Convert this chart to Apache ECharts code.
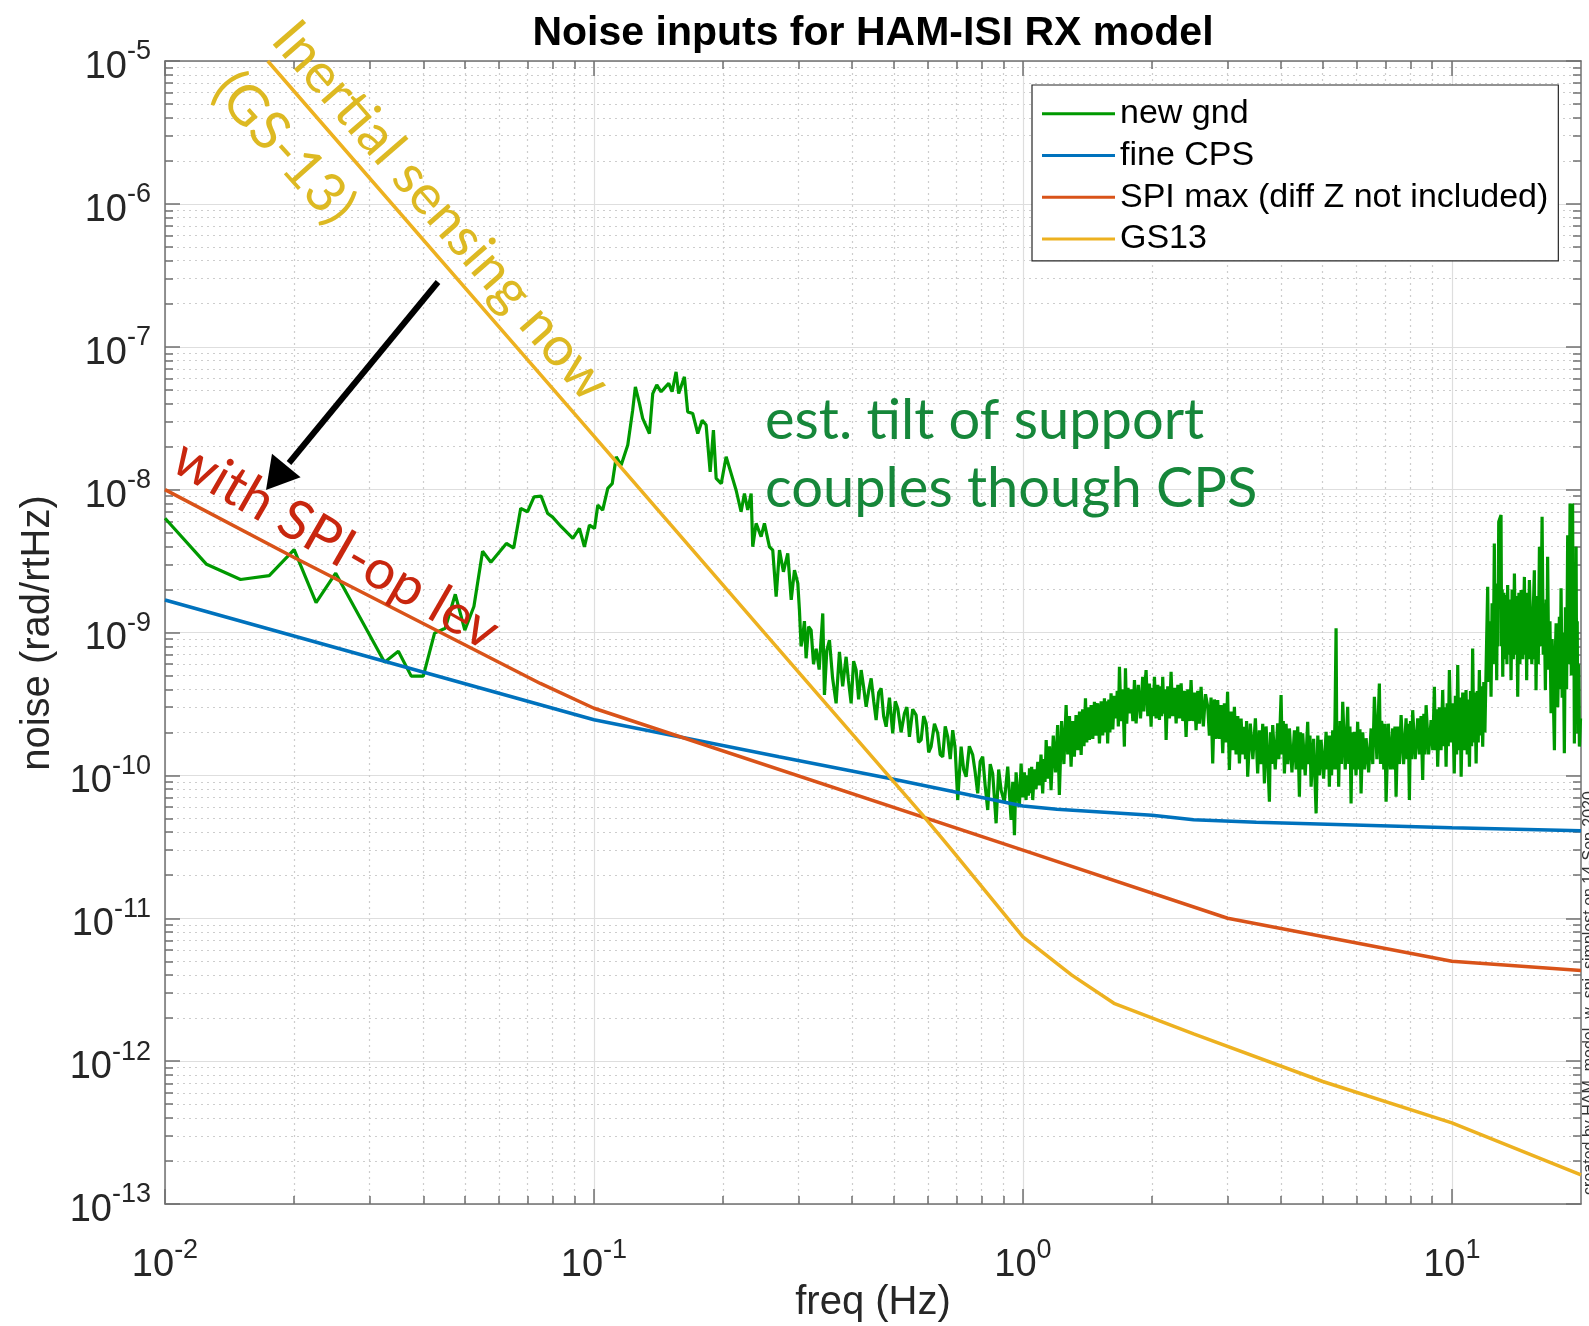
<!DOCTYPE html>
<html>
<head>
<meta charset="utf-8">
<script src="https://cdn.jsdelivr.net/npm/echarts@6.0.0/dist/echarts.min.js"></script>
<style>html,body{margin:0;padding:0;background:#fff;}</style>
</head>
<body>
<div id="main" style="width:1589px;height:1326px;"></div>
<script type="text/javascript">
// values, [freq (Hz), noise (rad/rtHz)]
// new gnd, below 0.3 Hz
var gndLow = [[0.01,6.3e-9],[0.0125,3.0e-9],[0.015,2.35e-9],[0.0175,2.5e-9],[0.02,3.8e-9],[0.0225,1.62e-9],[0.025,2.6e-9],[0.0325,6.2e-10],[0.035,7.4e-10],[0.0375,4.95e-10],
  [0.04,4.95e-10],[0.0425,9.9e-10],[0.045,1.07e-9],[0.0475,1.85e-9],[0.05,1.04e-9],[0.0525,1.52e-9],[0.055,3.7e-9],[0.0575,3.1e-9],[0.0625,4.2e-9],[0.065,3.9e-9],[0.0675,7.4e-9],[0.07,7.0e-9],
  [0.0725,8.9e-9],[0.0753,9.0e-9],[0.078,6.8e-9],[0.080,6.45e-9],[0.0839,5.5e-9],[0.0893,4.56e-9],[0.0925,5.35e-9],[0.095,3.98e-9],[0.0976,5.64e-9],[0.1003,5.35e-9],[0.1021,7.8e-9],
  [0.1048,7.2e-9],[0.1077,1.02e-8],[0.1103,1.1e-8],[0.1127,1.7e-8],[0.1157,1.48e-8],[0.1199,2.05e-8],[0.1231,3.6e-8],[0.1249,5.24e-8],[0.1277,4.0e-8],[0.1299,3.15e-8],[0.1347,2.47e-8],
  [0.1371,4.7e-8],[0.1401,5.4e-8],[0.1434,4.84e-8],[0.1468,5.24e-8],[0.1494,5.54e-8],[0.1521,4.84e-8],[0.1554,6.67e-8],[0.1576,4.7e-8],[0.1625,6.16e-8],[0.1654,3.5e-8],[0.1699,3.41e-8],
  [0.1746,2.47e-8],[0.1788,3.06e-8],[0.1826,2.83e-8],[0.1866,1.33e-8],[0.1899,2.61e-8],[0.1927,1.2e-8],[0.198,1.1e-8],[0.2033,1.7e-8],[0.2088,1.3e-8],[0.2145,9.9e-9],[0.2203,7.0e-9],
  [0.2243,9.4e-9],[0.2283,7.2e-9],[0.2325,9.4e-9],[0.2345,3.98e-9],[0.2388,5.8e-9],[0.2453,4.68e-9],[0.2497,5.8e-9],[0.2565,3.98e-9],[0.2611,3.77e-9],[0.2659,1.78e-9],[0.2707,3.77e-9],
  [0.2765,2.66e-9],[0.283,3.58e-9],[0.2883,1.69e-9],[0.2934,2.73e-9],[0.2987,2.21e-9]];
// new gnd, 0.3 - 1 Hz
var gndMid = [[0.3013,1.44e-9],[0.304,8.0e-10],[0.3066,9.3e-10],[0.3095,1.2e-9],[0.3123,6.6e-10],[0.3165,1.1e-9],[0.3208,1.04e-9],[0.325,6.0e-10],[0.3296,7.7e-10],[0.335,5.5e-10],
  [0.3415,1.36e-9],[0.3446,3.65e-10],[0.349,7.5e-10],[0.354,8.85e-10],[0.360,4.8e-10],[0.3669,3.19e-10],[0.3735,7.33e-10],[0.380,4.2e-10],[0.3871,6.76e-10],[0.392,4.6e-10],[0.3977,3.19e-10],
  [0.403,6.3e-10],[0.4085,5.46e-10],[0.414,3.4e-10],[0.4197,5.46e-10],[0.425,4.2e-10],[0.4311,3.02e-10],[0.437,3.9e-10],[0.4428,4.77e-10],[0.449,3.3e-10],[0.4548,2.44e-10],[0.461,3.8e-10],
  [0.4672,4.06e-10],[0.4735,2.6e-10],[0.4799,2.19e-10],[0.4885,3.5e-10],[0.4972,1.97e-10],[0.504,3.3e-10],[0.5108,2.94e-10],[0.520,2.0e-10],[0.5295,2.72e-10],[0.5365,3.0e-10],[0.5438,1.86e-10],
  [0.5535,2.9e-10],[0.5637,2.64e-10],[0.571,1.7e-10],[0.5791,1.77e-10],[0.587,2.6e-10],[0.5949,2.31e-10],[0.603,1.45e-10],[0.6109,1.59e-10],[0.622,2.3e-10],[0.633,1.97e-10],[0.6415,1.4e-10],
  [0.6503,1.35e-10],[0.659,2.2e-10],[0.6679,1.86e-10],[0.677,1.3e-10],[0.6861,2.07e-10],[0.695,1.55e-10],[0.7047,6.72e-11],[0.7178,1.59e-10],[0.7275,1.1e-10],[0.7373,9.78e-11],[0.750,1.6e-10],
  [0.7638,1.39e-10],[0.774,1.05e-10],[0.7845,7.48e-11],[0.795,1.25e-10],[0.8058,1.35e-10],[0.8165,8.5e-11],[0.8279,5.72e-11],[0.839,1.2e-10],[0.8503,1.03e-10],[0.858,7.0e-11],[0.866,4.62e-11],
  [0.878,1.1e-10],[0.8896,7.89e-11],[0.905,6.5e-11],[0.9218,1.15e-10],[0.930,7.5e-11],[0.9386,4.87e-11],[0.947,9.0e-11],[0.9555,3.82e-11],[0.964,1.05e-10],[0.9725,7.48e-11],[0.981,6.0e-11],
  [0.9904,1.21e-10]];
// new gnd, 1 - 10 Hz
var gndHigh = [[0.999,7.0e-11],[1.008,1.05e-10],[1.017,6.72e-11],[1.023,1.0e-10],[1.030,7.2e-11],[1.036,1.12e-10],[1.042,7.5e-11],[1.048,1.15e-10],[1.054,6.72e-11],[1.064,1.1e-10],
  [1.073,8.0e-11],[1.083,1.245e-10],[1.093,8.5e-11],[1.102,1.4e-10],[1.112,7.48e-11],[1.119,1.3e-10],[1.126,9.0e-11],[1.133,1.77e-10],[1.143,9.5e-11],[1.153,1.6e-10],[1.163,7.89e-11],
  [1.177,1.9e-10],[1.191,1.05e-10],[1.205,2.25e-10],[1.216,7.28e-11],[1.231,2.4e-10],[1.246,1.2e-10],[1.261,3.1e-10],[1.272,1.4e-10],[1.284,2.6e-10],[1.295,1.15e-10],[1.307,2.4e-10],
  [1.318,1.35e-10],[1.33,2.64e-10],[1.342,1.5e-10],[1.355,2.8e-10],[1.367,1.39e-10],[1.378,2.9e-10],[1.388,1.6e-10],[1.399,3.46e-10],[1.409,1.7e-10],[1.419,3.0e-10],[1.429,1.77e-10],
  [1.442,3.1e-10],[1.455,1.8e-10],[1.468,3.27e-10],[1.481,1.9e-10],[1.494,3.2e-10],[1.508,1.67e-10],[1.522,3.3e-10],[1.535,1.9e-10],[1.549,3.46e-10],[1.558,2.0e-10],[1.567,3.3e-10],
  [1.576,1.67e-10],[1.586,3.4e-10],[1.595,2.0e-10],[1.605,3.75e-10],[1.620,2.1e-10],[1.634,3.6e-10],[1.649,2.51e-10],[1.659,3.9e-10],[1.669,2.2e-10],[1.679,5.75e-10],[1.694,2.4e-10],
  [1.709,4.0e-10],[1.724,1.59e-10],[1.734,5.61e-10],[1.746,2.3e-10],[1.758,4.1e-10],[1.771,2.72e-10],[1.787,4.0e-10],[1.804,2.4e-10],[1.82,4.64e-10],[1.836,2.31e-10],[1.858,4.3e-10],
  [1.880,2.5e-10],[1.902,4.9e-10],[1.914,2.8e-10],[1.925,4.2e-10],[1.937,5.46e-10],[1.955,2.6e-10],[1.972,4.4e-10],[1.99,2.19e-10],[2.002,4.1e-10],[2.014,2.6e-10],[2.026,4.9e-10],
  [2.044,2.5e-10],[2.063,4.3e-10],[2.081,2.44e-10],[2.093,4.2e-10],[2.106,2.6e-10],[2.118,4.9e-10],[2.131,2.7e-10],[2.144,4.0e-10],[2.157,1.77e-10],[2.176,4.2e-10],[2.196,2.5e-10],
  [2.215,5.31e-10],[2.235,2.6e-10],[2.256,4.1e-10],[2.276,2.31e-10],[2.297,4.3e-10],[2.317,2.5e-10],[2.338,4.4e-10],[2.359,2.4e-10],[2.380,3.9e-10],[2.401,1.86e-10],[2.423,4.0e-10],
  [2.444,2.4e-10],[2.466,4.64e-10],[2.488,2.4e-10],[2.511,3.8e-10],[2.533,2.07e-10],[2.556,3.9e-10],[2.579,2.3e-10],[2.602,4.17e-10],[2.634,2.2e-10],[2.665,3.7e-10],[2.697,3.02e-10],
  [2.721,1.9e-10],[2.745,3.5e-10],[2.77,1.21e-10],[2.795,3.4e-10],[2.82,1.8e-10],[2.845,3.37e-10],[2.871,1.8e-10],[2.897,3.1e-10],[2.923,1.43e-10],[2.949,3.2e-10],[2.975,1.7e-10],
  [3.0,3.85e-10],[3.029,1.09e-10],[3.057,2.8e-10],[3.084,1.5e-10],[3.112,3.02e-10],[3.140,1.4e-10],[3.169,2.6e-10],[3.197,1.21e-10],[3.226,2.5e-10],[3.254,1.4e-10],[3.283,2.19e-10],
  [3.303,1.3e-10],[3.322,2.4e-10],[3.342,9.78e-11],[3.389,2.3e-10],[3.436,1.3e-10],[3.483,2.51e-10],[3.526,1.03e-10],[3.558,2.07e-10],[3.591,1.2e-10],[3.623,2.3e-10],[3.656,8.79e-11],
  [3.689,2.2e-10],[3.722,1.3e-10],[3.755,6.54e-11],[3.777,2.0e-10],[3.800,1.2e-10],[3.822,2.25e-10],[3.874,1.1e-10],[3.926,2.31e-10],[3.950,1.3e-10],[3.974,2.1e-10],[3.998,3.65e-10],
  [4.022,1.4e-10],[4.046,2.4e-10],[4.07,1.03e-10],[4.107,2.3e-10],[4.144,1.2e-10],[4.181,2.13e-10],[4.238,1.05e-10],[4.295,2.07e-10],[4.334,1.1e-10],[4.372,2.2e-10],[4.411,7.08e-11],
  [4.437,2.0e-10],[4.464,1.1e-10],[4.49,1.97e-10],[4.551,1.0e-10],[4.612,2.37e-10],[4.640,1.2e-10],[4.669,1.9e-10],[4.697,8.32e-11],[4.761,1.8e-10],[4.825,5.42e-11],[4.869,1.9e-10],
  [4.912,1.0e-10],[4.956,1.77e-10],[5.023,9.5e-11],[5.091,2.02e-10],[5.121,1.1e-10],[5.151,1.9e-10],[5.181,8.32e-11],[5.212,1.9e-10],[5.243,1.0e-10],[5.274,2.07e-10],[5.306,1.1e-10],
  [5.339,2.4e-10],[5.371,1.07e-9],[5.396,1.1e-10],[5.421,2.2e-10],[5.446,8.32e-11],[5.486,2.4e-10],[5.526,1.2e-10],[5.566,3.27e-10],[5.641,1.1e-10],[5.716,3.02e-10],[5.751,1.2e-10],
  [5.786,2.2e-10],[5.821,6.37e-11],[5.856,2.0e-10],[5.890,1.1e-10],[5.925,2.02e-10],[5.978,1.0e-10],[6.031,2.37e-10],[6.068,1.1e-10],[6.105,2.1e-10],[6.142,7.48e-11],[6.198,2.0e-10],
  [6.254,1.1e-10],[6.31,1.82e-10],[6.396,1.05e-10],[6.482,2.13e-10],[6.54,1.2e-10],[6.597,3.55e-10],[6.687,1.3e-10],[6.776,4.4e-10],[6.817,1.2e-10],[6.857,2.4e-10],[6.898,2.07e-10],
  [6.94,1.1e-10],[6.98,2.3e-10],[7.025,6.54e-11],[7.109,2.3e-10],[7.193,1.1e-10],[7.278,2.13e-10],[7.323,1.1e-10],[7.367,2.2e-10],[7.412,7.08e-11],[7.479,2.2e-10],[7.547,1.2e-10],
  [7.614,2.64e-10],[7.717,1.2e-10],[7.821,2.51e-10],[7.868,1.3e-10],[7.914,2.3e-10],[7.961,6.72e-11],[8.008,2.4e-10],[8.056,1.3e-10],[8.103,2.86e-10],[8.214,1.3e-10],[8.324,2.51e-10],
  [8.40,1.4e-10],[8.475,2.6e-10],[8.55,9.27e-11],[8.603,2.7e-10],[8.655,1.4e-10],[8.708,3.1e-10],[8.826,1.4e-10],[8.944,2.44e-10],[9.024,1.5e-10],[9.104,4.17e-10],[9.158,1.5e-10],
  [9.213,2.9e-10],[9.267,1.15e-10],[9.35,3.0e-10],[9.435,1.5e-10],[9.52,3.95e-10],[9.578,1.6e-10],[9.636,3.0e-10],[9.694,1.15e-10],[9.752,3.2e-10],[9.809,1.6e-10],[9.867,5.46e-10],
  [9.955,1.7e-10],[10.04,3.2e-10]];
// new gnd, 10 - 20 Hz
var gndTop = [[10.13,1.03e-10],[10.19,3.6e-10],[10.26,1.4e-10],[10.32,5.91e-10],[10.38,1.5e-10],[10.45,3.5e-10],[10.51,9.78e-11],[10.60,3.8e-10],[10.70,1.5e-10],[10.79,3.95e-10],
  [10.86,1.4e-10],[10.92,3.4e-10],[10.99,1.15e-10],[11.05,3.9e-10],[11.12,1.6e-10],[11.18,7.74e-10],[11.25,1.7e-10],[11.32,3.8e-10],[11.39,1.21e-10],[11.46,3.9e-10],[11.52,1.7e-10],
  [11.59,5.46e-10],[11.66,1.9e-10],[11.73,4.2e-10],[11.80,1.59e-10],[11.87,4.5e-10],[11.94,2.0e-10],[12.01,5.17e-10],[12.12,2.09e-9],[12.19,4.5e-10],[12.27,1.2e-9],[12.34,3.55e-10],
  [12.41,1.6e-9],[12.49,6.0e-10],[12.56,4.2e-9],[12.61,6.5e-10],[12.67,1.8e-9],[12.72,4.64e-10],[12.77,2.2e-9],[12.81,8.0e-10],[12.86,5.95e-9],[13.02,6.63e-9],[13.06,8.0e-10],[13.10,2.0e-9],
  [13.14,4.9e-10],[13.22,1.9e-9],[13.30,6.5e-10],[13.38,1.83e-9],[13.44,6.0e-10],[13.49,2.15e-9],[13.57,7.0e-10],[13.66,1.7e-9],[13.74,4.64e-10],[13.82,2.0e-9],[13.91,6.5e-10],[13.99,2.59e-9],
  [14.07,7.0e-10],[14.16,1.8e-9],[14.24,3.55e-10],[14.33,1.9e-9],[14.41,6.0e-10],[14.50,1.98e-9],[14.63,6.5e-10],[14.76,2.45e-9],[14.82,7.0e-10],[14.88,1.7e-9],[14.94,4.64e-10],[15.01,1.9e-9],
  [15.09,6.5e-10],[15.16,2.33e-9],[15.36,6.0e-10],[15.57,2.73e-9],[15.62,6.5e-10],[15.66,1.6e-9],[15.71,3.95e-10],[15.81,1.8e-9],[15.90,6.0e-10],[16.0,3.98e-9],[16.11,8.0e-10],[16.23,6.45e-9],
  [16.33,7.0e-10],[16.42,1.6e-9],[16.52,3.95e-10],[16.59,1.7e-9],[16.65,6.0e-10],[16.72,3.39e-9],[16.82,5.5e-10],[16.93,1.2e-9],[17.03,2.72e-10],[17.13,9.0e-10],[17.24,3.5e-10],[17.34,1.5e-10],
  [17.42,7.0e-10],[17.50,1.16e-9],[17.65,3.0e-10],[17.81,1.29e-9],[17.89,4.0e-10],[17.97,2.04e-9],[18.08,3.5e-10],[18.18,1.0e-9],[18.29,1.43e-10],[18.40,1.5e-9],[18.51,4.0e-10],[18.62,4.8e-9],
  [18.74,6.0e-10],[18.86,8.01e-9],[18.99,5.0e-10],[19.12,8.01e-9],[19.18,6.0e-10],[19.24,2.0e-9],[19.30,1.67e-10],[19.36,1.5e-9],[19.42,3.0e-10],[19.48,3.98e-9],[19.54,4.0e-10],[19.60,1.2e-9],
  [19.65,1.97e-10],[19.74,6.0e-10],[19.83,1.59e-10],[19.95,2.5e-10]];

var cpsFreq = [0.01, 0.1, 0.27, 0.49, 1, 1.2, 2, 2.5, 3.5, 10, 20];
var cpsVal = [1.69e-9, 2.45e-10, 1.35e-10, 9.5e-11, 6.1e-11, 5.8e-11, 5.25e-11, 4.9e-11, 4.7e-11, 4.3e-11, 4.1e-11];

var spiFreq = [0.01, 0.02, 0.075, 0.1, 1, 3, 10, 20];
var spiVal = [1e-8, 3.35e-9, 4.4e-10, 2.95e-10, 3.0e-11, 1.0e-11, 5.0e-12, 4.3e-12];

var gsFreq = [0.01736, 0.0925, 0.27, 0.584, 0.68, 1, 1.3, 1.63, 2.5, 5, 10, 20];
var gsVal = [1e-5, 3.1e-8, 7.6e-10, 5.27e-11, 3.05e-11, 7.4e-12, 4.0e-12, 2.54e-12, 1.55e-12, 7.2e-13, 3.7e-13, 1.6e-13];

// axis decades (exponents) and minor multipliers
var xMajorExp = [-2, -1, 0, 1];
var yMajorExp = [-13, -12, -11, -10, -9, -8, -7, -6, -5];
var minorMult = [2, 3, 4, 5, 6, 7, 8, 9];

var FONT = '"Liberation Sans", Arial, Helvetica, sans-serif';
var AX = '#707070';
var xLo = Math.log10(0.01), xHi = Math.log10(20);
var yLo = -13, yHi = -5;

function pairs(f, v) {
    return f.map(function (x, i) { return [x, v[i]]; });
}
function minorExp(lo, hi) {
    var out = [];
    for (var n = Math.floor(lo); n < hi; n++) {
        minorMult.forEach(function (m) {
            var e = n + Math.log10(m);
            if (e > lo + 1e-9 && e < hi - 1e-9) out.push(e);
        });
    }
    return out;
}
var xMinor = minorExp(xLo, xHi);
var yMinor = minorExp(yLo, yHi);

var rich = {
    b: { fontSize: 38, lineHeight: 48, verticalAlign: 'bottom', fontFamily: FONT, color: '#262626' },
    s: { fontSize: 27, lineHeight: 24, verticalAlign: 'top', fontFamily: FONT, color: '#262626' }
};
function powLabel(v) { return '{b|10}{s|' + Math.round(v) + '}'; }

function overlay(isX, pos, vals, len, withLine, label, split) {
    var ax = {
        type: 'value', min: isX ? xLo : yLo, max: isX ? xHi : yHi, position: pos,
        axisLine: { show: withLine, onZero: false, lineStyle: { color: AX, width: 1.5 } },
        axisTick: { show: true, inside: true, length: len, customValues: vals, lineStyle: { color: AX, width: 1.5 } },
        axisLabel: { show: false },
        splitLine: { show: false }
    };
    if (label) ax.axisLabel = label;
    if (split) ax.splitLine = { show: true, lineStyle: split };
    return ax;
}

var myChart = echarts.init(document.getElementById('main'));

var option = {
    animation: false,
    backgroundColor: '#fff',
    grid: { left: 165, top: 61, width: 1416, height: 1143, outerBoundsMode: 'none', containLabel: false },
    xAxis: [
        { type: 'log', logBase: 10, min: 0.01, max: 20, show: false },
        overlay(true, 'bottom', xMajorExp, 15, true,
            { show: true, customValues: xMajorExp, margin: 33, fontSize: 38, formatter: powLabel, rich: rich },
            { color: '#dedede', width: 1.2 }),
        overlay(true, 'bottom', xMinor, 8, false, null, { color: '#cdcdcd', width: 1.2, type: [2, 4] }),
        overlay(true, 'top', xMajorExp, 15, true, null, null),
        overlay(true, 'top', xMinor, 8, false, null, null)
    ],
    yAxis: [
        { type: 'log', logBase: 10, min: 1e-13, max: 1e-5, show: false },
        overlay(false, 'left', yMajorExp, 15, true,
            { show: true, customValues: yMajorExp, margin: 14, padding: [3, 0, 0, 0], fontSize: 38, formatter: powLabel, rich: rich },
            { color: '#dedede', width: 1.2 }),
        overlay(false, 'left', yMinor, 8, false, null, { color: '#cdcdcd', width: 1.2, type: [2, 4] }),
        overlay(false, 'right', yMajorExp, 15, true, null, null),
        overlay(false, 'right', yMinor, 8, false, null, null)
    ],
    legend: {
        orient: 'vertical', left: 1032, top: 85, padding: [8, 10, 1, 10],
        itemWidth: 73, itemHeight: 3, itemGap: 0, icon: 'rect',
        borderColor: '#262626', borderWidth: 1.2, backgroundColor: '#fff',
        selectedMode: false,
        textStyle: { fontFamily: FONT, fontSize: 34, lineHeight: 41.7, color: '#000' },
        data: ['new gnd', 'fine CPS', 'SPI max (diff Z not included)', 'GS13']
    },
    series: [
        { name: 'new gnd', type: 'line', data: gndLow.concat(gndMid, gndHigh, gndTop), showSymbol: false, color: '#009900', lineStyle: { width: 3.2 } },
        { name: 'fine CPS', type: 'line', data: pairs(cpsFreq, cpsVal), showSymbol: false, color: '#0072BD', lineStyle: { width: 3.5 } },
        { name: 'SPI max (diff Z not included)', type: 'line', data: pairs(spiFreq, spiVal), showSymbol: false, color: '#D95319', lineStyle: { width: 3.5 } },
        { name: 'GS13', type: 'line', data: pairs(gsFreq, gsVal), showSymbol: false, color: '#EDB120', lineStyle: { width: 3.5 } }
    ],
    graphic: [
        { type: 'text', x: 873, y: 34, z: 100, style: { text: 'Noise inputs for HAM-ISI RX model', font: 'bold 41px ' + FONT, fill: '#000', align: 'center', verticalAlign: 'middle' } },
        { type: 'text', x: 873, y: 1303, z: 100, style: { text: 'freq (Hz)', font: '40px ' + FONT, fill: '#262626', align: 'center', verticalAlign: 'middle' } },
        { type: 'text', x: 38, y: 633, z: 100, rotation: Math.PI / 2, style: { text: 'noise (rad/rtHz)', font: '40px ' + FONT, fill: '#262626', align: 'center', verticalAlign: 'middle' } },
        { type: 'text', x: 1590, y: 993, z: 100, rotation: Math.PI / 2, style: { text: 'created by HAM_model_w_spi_simplest on 14-Sep-2020', font: '16px ' + FONT, fill: '#333', align: 'center', verticalAlign: 'middle' } },
        // annotations
        { type: 'text', x: 441, y: 211, z: 100, rotation: -0.855, style: { text: 'Inertial sensing now', font: '55px Lato', fill: '#DDB922', align: 'center', verticalAlign: 'middle' } },
        { type: 'text', x: 284, y: 148, z: 100, rotation: -0.84, style: { text: '(GS-13)', font: '55px Lato', fill: '#DDB922', align: 'center', verticalAlign: 'middle' } },
        { type: 'text', x: 336, y: 545, z: 100, rotation: -0.522, style: { text: 'with SPI-op lev', font: '55px Lato', fill: '#C8260E', align: 'center', verticalAlign: 'middle' } },
        { type: 'text', x: 765, y: 421, z: 100, style: { text: 'est. tilt of support', font: '56px Lato', fill: '#16873A', align: 'left', verticalAlign: 'middle' } },
        { type: 'text', x: 765, y: 489, z: 100, style: { text: 'couples though CPS', font: '56px Lato', fill: '#16873A', align: 'left', verticalAlign: 'middle' } },
        { type: 'line', z: 100, shape: { x1: 438, y1: 282, x2: 289, y2: 463 }, style: { stroke: '#000', lineWidth: 6 } },
        { type: 'polygon', z: 100, shape: { points: [[266, 490], [272, 453.7], [300.6, 477.3]] }, style: { fill: '#000' } }
    ]
};
myChart.setOption(option);
</script>
</body>
</html>
